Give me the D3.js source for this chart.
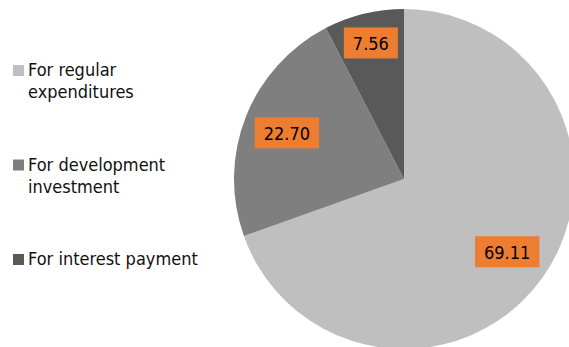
<!DOCTYPE html>
<html>
<head>
<meta charset="utf-8">
<script src="https://cdn.jsdelivr.net/npm/d3@7"></script>
<style>
  html, body { margin: 0; padding: 0; background: #fff; }
  svg { display: block; font-family: "DejaVu Sans Condensed", "DejaVu Sans", sans-serif; }
</style>
</head>
<body>
<svg id="chart" width="569" height="347"></svg>
<script>
// Budget allocation shares
const categories = ["For regular expenditures", "For development investment", "For interest payment"];
const values = [69.11, 22.70, 7.56];
const valueLabels = ["69.11", "22.70", "7.56"];
const colors = ["#BFBFBF", "#7F7F7F", "#595959"];

const width = 569, height = 347;
const cx = 404, cy = 179, R = 170;

const svg = d3.select("#chart");

const pie = d3.pie().sort(null).value(d => d)(values);
const arc = d3.arc().innerRadius(0).outerRadius(R);

const g = svg.append("g").attr("transform", `translate(${cx},${cy})`);

g.selectAll("path.slice")
  .data(pie)
  .join("path")
  .attr("class", "slice")
  .attr("d", arc)
  .attr("fill", (d, i) => colors[i]);

// Data labels: orange boxes placed inside the outer edge along each slice's mid-angle
const fontSize = 18, padX = 9, boxH = 31, edgeMargin = 8.5;
const labels = g.selectAll("g.lbl")
  .data(pie)
  .join("g")
  .attr("class", "lbl");

labels.each(function(d, i) {
  const sel = d3.select(this);
  const txt = sel.append("text")
    .attr("text-anchor", "middle")
    .attr("dominant-baseline", "central")
    .attr("font-size", fontSize)
    .attr("fill", "#000")
    .text(valueLabels[i]);
  const tw = txt.node().getComputedTextLength();
  const bw = tw + 2 * padX;
  const mid = (d.startAngle + d.endAngle) / 2;
  const s = Math.sin(mid), c = Math.cos(mid);
  const dist = R - edgeMargin - Math.abs(bw / 2 * s) - Math.abs(boxH / 2 * c);
  const x = dist * s, y = -dist * c;
  sel.insert("rect", "text")
    .attr("x", x - bw / 2)
    .attr("y", y - boxH / 2)
    .attr("width", bw)
    .attr("height", boxH)
    .attr("fill", "#ED7D31");
  txt.attr("x", x).attr("y", y + 1);
});

// Legend with wrapped entry text
const legendX = 13, legendY0 = 65, legendStep = 94.5, sw = 11, lineH = 22, maxW = 182;
const legend = svg.append("g");
categories.forEach((name, i) => {
  const y = legendY0 + i * legendStep;
  legend.append("rect")
    .attr("x", legendX).attr("y", y)
    .attr("width", sw).attr("height", sw)
    .attr("fill", colors[i]);
  const t = legend.append("text")
    .attr("x", legendX + 15)
    .attr("y", y + 11)
    .attr("font-size", fontSize)
    .attr("fill", "#111");
  const words = name.split(" ");
  let line = [];
  let tspan = t.append("tspan").attr("x", legendX + 15).attr("dy", 0);
  words.forEach(w => {
    line.push(w);
    tspan.text(line.join(" "));
    if (tspan.node().getComputedTextLength() > maxW && line.length > 1) {
      line.pop();
      tspan.text(line.join(" "));
      line = [w];
      tspan = t.append("tspan").attr("x", legendX + 15).attr("dy", lineH).text(w);
    }
  });
});
</script>
</body>
</html>
